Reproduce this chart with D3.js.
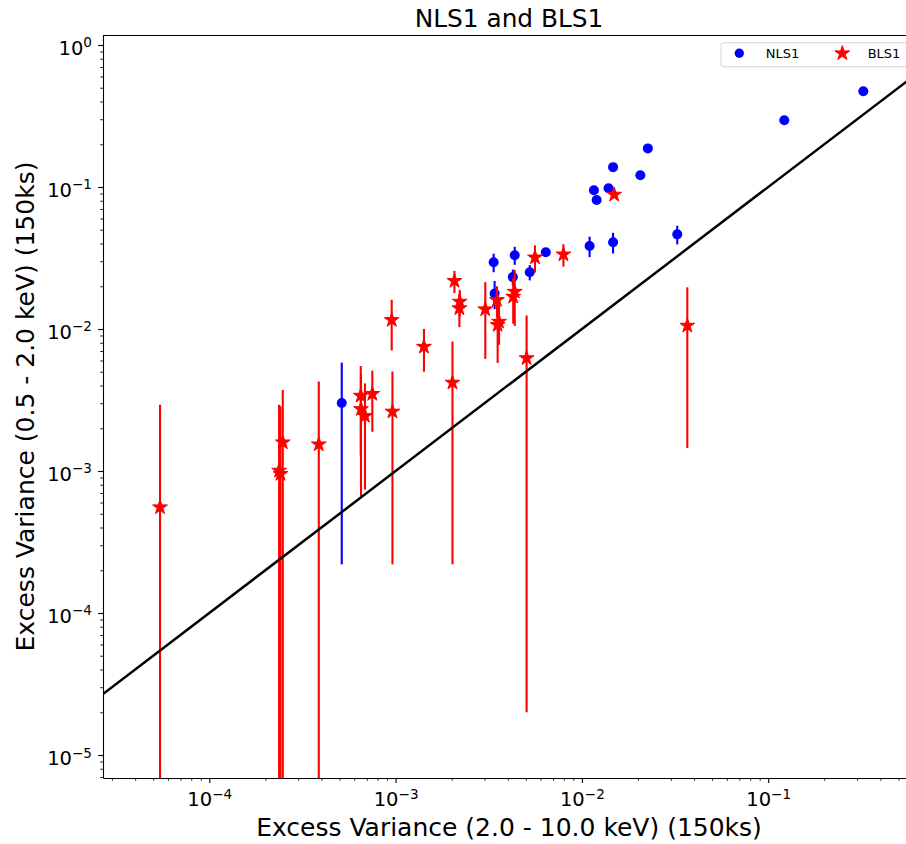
<!DOCTYPE html>
<html>
<head>
<meta charset="utf-8">
<script src="https://cdn.jsdelivr.net/npm/d3@7"></script>
<style>
  body { margin: 0; background: #fff; }
  svg { display: block; }
  text { font-family: "DejaVu Sans", sans-serif; fill: #000; }
</style>
</head>
<body>
<svg id="chart" width="906" height="844"></svg>
<script>
// Excess variance of NLS1 sources: hard band (2-10 keV) vs soft band (0.5-2 keV), 150 ks segments
const nlsHard = [0.324, 0.122, 0.0226, 0.0206, 0.0147, 0.0139, 0.0116, 0.0120, 0.0325, 0.0147,
                 0.0110, 0.0064, 0.00525, 0.00436, 0.00336, 0.00426, 0.00340, 0.000514];
const nlsSoft = [0.472, 0.295, 0.187, 0.121, 0.138, 0.098, 0.095, 0.081, 0.0464, 0.0408,
                 0.0384, 0.0347, 0.0251, 0.0331, 0.0295, 0.0232, 0.0178, 0.00301];
const nlsSoftErr = [0.02, 0.012, 0.008, 0.005, 0.006, 0.004, 0.004, 0.0035, 0.007, 0.0068,
                    0.0063, 0.0012, 0.0031, 0.0048, 0.0044, 0.003, 0.004, 0.00279];

// Excess variance of BLS1 sources
const blsHard = [0.0149, 0.0368, 0.00796, 0.0056, 0.00436, 0.00428, 0.0035, 0.00359, 0.00353,
                 0.00303, 0.00207, 0.00221, 0.0022, 0.00142, 0.000953, 0.000962, 0.00202, 0.00505,
                 0.00065, 0.000652, 0.000685, 0.00075, 0.000387, 0.000248, 0.000237, 0.000241, 0.0000544];
const blsSoft = [0.0883, 0.01055, 0.0335, 0.0319, 0.0183, 0.0169, 0.016, 0.01125, 0.01067,
                 0.01376, 0.0218, 0.01557, 0.014, 0.0075, 0.01157, 0.00262, 0.00419, 0.00623,
                 0.00339, 0.00273, 0.00244, 0.00349, 0.00154, 0.00159, 0.001005, 0.000953, 0.000555];
const blsSoftErr = [0.003, 0.0091, 0.006, 0.0069, 0.0078, 0.006, 0.004, 0.0035, 0.0049,
                    0.0076, 0.0039, 0.0033, 0.0037, 0.0025, 0.0045, 0.0024, 0.00397, 0.00621,
                    0.0021, 0.00207, 0.0017, 0.0016, 0.00272, 0.00213, 0.00192, 0.0019, 0.00237];

// Major tick decades (labelled as 10^n)
const xTickExps = [-4, -3, -2, -1];
const yTickExps = [-5, -4, -3, -2, -1, 0];

const seriesNames = ["NLS1", "BLS1"];
const seriesColors = ["#0000ff", "#ff0000"];

const svg = d3.select("#chart");
const plot = { left: 103, right: 915, top: 35, bottom: 778 };

const x = d3.scaleLog().domain([2.688e-5, 0.6138]).range([plot.left, plot.right]);
const y = d3.scaleLog().domain([6.887e-6, 1.176]).range([plot.bottom, plot.top]);

function minorTicks(scale) {
  const [d0, d1] = scale.domain();
  const out = [];
  for (let e = Math.floor(Math.log10(d0)); e <= Math.ceil(Math.log10(d1)); e++) {
    for (let m = 2; m <= 9; m++) {
      const v = m * Math.pow(10, e);
      if (v >= d0 && v <= d1) out.push(v);
    }
  }
  return out;
}
const supText = e => (e < 0 ? "\u2212" + (-e) : String(e));

svg.append("defs").append("clipPath").attr("id", "plotClip")
  .append("rect")
  .attr("x", plot.left).attr("y", plot.top)
  .attr("width", plot.right - plot.left).attr("height", plot.bottom - plot.top);

// ---- axes ----
const xMinor = svg.append("g").attr("transform", `translate(0,${plot.bottom})`)
  .call(d3.axisBottom(x).tickValues(minorTicks(x)).tickSize(2.8).tickSizeOuter(0).tickFormat(""));
const xMajor = svg.append("g").attr("transform", `translate(0,${plot.bottom})`)
  .call(d3.axisBottom(x).tickValues(xTickExps.map(e => Math.pow(10, e))).tickSize(4.9).tickSizeOuter(0).tickFormat(""));
const yMinor = svg.append("g").attr("transform", `translate(${plot.left},0)`)
  .call(d3.axisLeft(y).tickValues(minorTicks(y)).tickSize(2.8).tickSizeOuter(0).tickFormat(""));
const yMajor = svg.append("g").attr("transform", `translate(${plot.left},0)`)
  .call(d3.axisLeft(y).tickValues(yTickExps.map(e => Math.pow(10, e))).tickSize(4.9).tickSizeOuter(0).tickFormat(""));

[xMinor, yMinor].forEach(g => { g.selectAll(".tick line").attr("stroke-width", 0.85); g.select(".domain").remove(); });
[xMajor, yMajor].forEach(g => {
  g.selectAll(".tick line").attr("stroke-width", 1.1);
  g.select(".domain").attr("stroke-width", 1.1);
});

xMajor.selectAll(".tick").each(function(d) {
  const t = d3.select(this).append("text")
    .attr("y", 28).attr("text-anchor", "middle").attr("font-size", 19.5);
  t.append("tspan").text("10");
  t.append("tspan").attr("dy", -7.5).attr("font-size", 13.6).text(supText(Math.round(Math.log10(d))));
});
yMajor.selectAll(".tick").each(function(d) {
  const t = d3.select(this).append("text")
    .attr("x", -11).attr("y", 9.5).attr("text-anchor", "end").attr("font-size", 19.5);
  t.append("tspan").text("10");
  t.append("tspan").attr("dy", -7.5).attr("font-size", 13.6).text(supText(Math.round(Math.log10(d))));
});

// top and right frame lines
svg.append("line")
  .attr("x1", plot.left).attr("x2", plot.right)
  .attr("y1", plot.top + 0.5).attr("y2", plot.top + 0.5)
  .attr("stroke", "#000").attr("stroke-width", 1.1);
svg.append("line")
  .attr("x1", plot.right + 0.5).attr("x2", plot.right + 0.5)
  .attr("y1", plot.top).attr("y2", plot.bottom)
  .attr("stroke", "#000").attr("stroke-width", 1.1);

// ---- data ----
const layer = svg.append("g").attr("clip-path", "url(#plotClip)");

function errBars(xs, ys, errs, color) {
  layer.append("g").selectAll("line").data(xs).join("line")
    .attr("x1", (d) => x(d)).attr("x2", (d) => x(d))
    .attr("y1", (d, i) => y(ys[i] + errs[i]))
    .attr("y2", (d, i) => (ys[i] - errs[i] > 0 ? y(ys[i] - errs[i]) : plot.bottom + 20))
    .attr("stroke", color).attr("stroke-width", 2.1);
}

errBars(nlsHard, nlsSoft, nlsSoftErr, seriesColors[0]);
layer.append("g").selectAll("circle").data(nlsHard).join("circle")
  .attr("cx", d => x(d)).attr("cy", (d, i) => y(nlsSoft[i]))
  .attr("r", 5).attr("fill", seriesColors[0]);

errBars(blsHard, blsSoft, blsSoftErr, seriesColors[1]);
const star = d3.symbol().type(d3.symbolStar).size(68);
layer.append("g").selectAll("path").data(blsHard).join("path")
  .attr("transform", (d, i) => `translate(${x(d)},${y(blsSoft[i])})`)
  .attr("d", star).attr("fill", seriesColors[1])
  .attr("stroke", seriesColors[1]).attr("stroke-width", 1).attr("stroke-linejoin", "bevel");

// one-to-one line
const [dx0, dx1] = x.domain();
layer.append("line")
  .attr("x1", x(dx0)).attr("y1", y(dx0))
  .attr("x2", x(dx1)).attr("y2", y(dx1))
  .attr("stroke", "#000").attr("stroke-width", 2.5);

// ---- legend ----
const legend = svg.append("g");
legend.append("rect")
  .attr("x", 721).attr("y", 42.7).attr("width", 187).attr("height", 24).attr("rx", 3)
  .attr("fill", "#fff").attr("fill-opacity", 0.8)
  .attr("stroke", "#d6d6d6").attr("stroke-width", 1);
legend.append("circle").attr("cx", 739.3).attr("cy", 53.3).attr("r", 4.7).attr("fill", seriesColors[0]);
legend.append("text").attr("x", 765.7).attr("y", 58.3).attr("font-size", 13).text(seriesNames[0]);
legend.append("path").attr("transform", "translate(842.3,53.3)").attr("d", star).attr("fill", seriesColors[1])
  .attr("stroke", seriesColors[1]).attr("stroke-width", 1).attr("stroke-linejoin", "bevel");
legend.append("text").attr("x", 867.7).attr("y", 58.3).attr("font-size", 13).text(seriesNames[1]);

// ---- titles ----
svg.append("text").attr("x", 509).attr("y", 27).attr("text-anchor", "middle")
  .attr("font-size", 24.8).text("NLS1 and BLS1");
svg.append("text").attr("x", 509).attr("y", 836).attr("text-anchor", "middle")
  .attr("font-size", 25).text("Excess Variance (2.0 - 10.0 keV) (150ks)");
svg.append("text").attr("transform", "translate(33.5,406.5) rotate(-90)").attr("text-anchor", "middle")
  .attr("font-size", 25).text("Excess Variance (0.5 - 2.0 keV) (150ks)");
</script>
</body>
</html>
